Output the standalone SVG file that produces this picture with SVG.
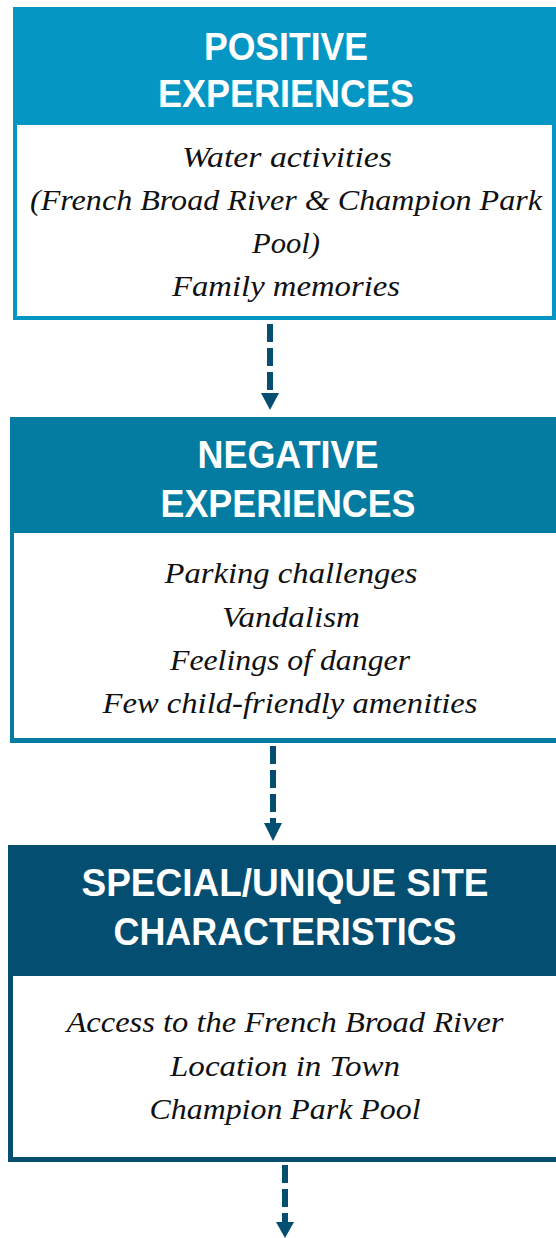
<svg xmlns="http://www.w3.org/2000/svg" width="556" height="1238" viewBox="0 0 556 1238">
<style>
.hd{font-family:"Liberation Sans",Arial,sans-serif;font-weight:bold;font-size:39px;fill:#ffffff;text-anchor:middle}
.bd{font-family:"Liberation Serif","Times New Roman",serif;font-style:italic;font-size:29px;fill:#111111;text-anchor:middle}
.cn{stroke:#034e71;stroke-width:6;stroke-dasharray:18 6;fill:none}
.ah{fill:#034e71}
</style>
<rect width="556" height="1238" fill="#ffffff"/>
<g id="positive">
<rect x="13" y="7" width="543" height="313" fill="#0596c3"/>
<rect x="17" y="125" width="535" height="191" fill="#ffffff"/>
<text class="hd" x="286" y="60" textLength="164" lengthAdjust="spacingAndGlyphs">POSITIVE</text>
<text class="hd" x="286" y="107" textLength="256" lengthAdjust="spacingAndGlyphs">EXPERIENCES</text>
<text class="bd" x="287" y="167" textLength="210" lengthAdjust="spacingAndGlyphs">Water activities</text>
<text class="bd" x="286" y="210" textLength="512" lengthAdjust="spacingAndGlyphs">(French Broad River &amp; Champion Park</text>
<text class="bd" x="286" y="253" textLength="68" lengthAdjust="spacingAndGlyphs">Pool)</text>
<text class="bd" x="286" y="296" textLength="228" lengthAdjust="spacingAndGlyphs">Family memories</text>
</g>
<g id="negative">
<rect x="10" y="417" width="550" height="326" fill="#047ba0"/>
<rect x="14" y="533" width="546" height="205" fill="#ffffff"/>
<text class="hd" x="288" y="468" textLength="181" lengthAdjust="spacingAndGlyphs">NEGATIVE</text>
<text class="hd" x="288" y="517" textLength="255" lengthAdjust="spacingAndGlyphs">EXPERIENCES</text>
<text class="bd" x="291" y="583" textLength="253" lengthAdjust="spacingAndGlyphs">Parking challenges</text>
<text class="bd" x="291" y="627" textLength="138" lengthAdjust="spacingAndGlyphs">Vandalism</text>
<text class="bd" x="290" y="670" textLength="240" lengthAdjust="spacingAndGlyphs">Feelings of danger</text>
<text class="bd" x="290" y="713" textLength="375" lengthAdjust="spacingAndGlyphs">Few child-friendly amenities</text>
</g>
<g id="special">
<rect x="8" y="845" width="552" height="317" fill="#034e71"/>
<rect x="13" y="976" width="547" height="181" fill="#ffffff"/>
<text class="hd" x="285" y="896" textLength="407" lengthAdjust="spacingAndGlyphs">SPECIAL/UNIQUE SITE</text>
<text class="hd" x="285" y="945" textLength="343" lengthAdjust="spacingAndGlyphs">CHARACTERISTICS</text>
<text class="bd" x="285" y="1032" textLength="437" lengthAdjust="spacingAndGlyphs">Access to the French Broad River</text>
<text class="bd" x="285" y="1076" textLength="230" lengthAdjust="spacingAndGlyphs">Location in Town</text>
<text class="bd" x="285" y="1119" textLength="271" lengthAdjust="spacingAndGlyphs">Champion Park Pool</text>
</g>
<g id="connectors">
<line class="cn" x1="270" y1="324" x2="270" y2="394"/>
<polygon class="ah" points="261,393 279,393 270,410"/>
<line class="cn" x1="273" y1="746" x2="273" y2="824"/>
<polygon class="ah" points="264,823 282,823 273,841"/>
<line class="cn" x1="285" y1="1165" x2="285" y2="1224"/>
<polygon class="ah" points="276,1222 294,1222 285,1238"/>
</g>
</svg>
